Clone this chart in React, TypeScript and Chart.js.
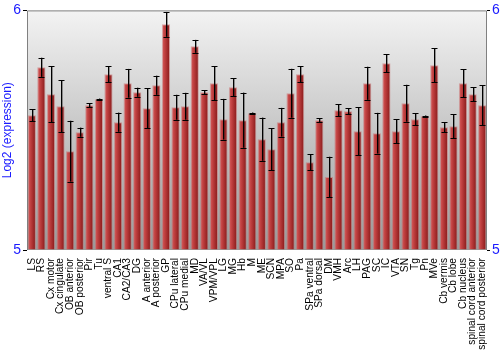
import React, { useEffect, useRef } from "react";
import { Chart, registerables } from "chart.js";

Chart.register(...registerables);

const categories = [
  "LS", "RS", "Cx motor", "Cx cingulate", "OB anterior", "OB posterior", "Pir", "Tu",
  "ventral S", "CA1", "CA2/CA3", "DG", "A anterior", "A posterior", "GP", "CPu lateral",
  "CPu medial", "MD", "VA/VL", "VPM/VPL", "LG", "MG", "Hb", "M", "ME", "SCN", "MPA", "SO",
  "Pa", "SPa ventral", "SPa dorsal", "DM", "VMH", "Arc", "LH", "PAG", "SC", "IC", "VTA",
  "SN", "Tg", "Pn", "MVe", "Cb vermis", "Cb lobe", "Cb nucleus", "spinal cord anterior",
  "spinal cord posterior",
];

const means = [
  5.5625, 5.7625, 5.65, 5.6, 5.4125, 5.4917, 5.6042, 5.629,
  5.7333, 5.5333, 5.6958, 5.6583, 5.5917, 5.6875, 5.9417, 5.5958,
  5.6, 5.85, 5.6583, 5.6958, 5.5458, 5.6792, 5.5417, 5.5708, 5.4625, 5.4208, 5.5333, 5.6542,
  5.7333, 5.3667, 5.5417, 5.3042, 5.5833, 5.5792, 5.4958, 5.6958, 5.4875, 5.7792, 5.4958,
  5.6125, 5.5458, 5.5583, 5.7708, 5.5125, 5.5167, 5.6958, 5.65,
  5.6042,
];

const errors = [
  0.025, 0.04, 0.117, 0.108, 0.127, 0.019, 0.008, 0.003,
  0.033, 0.04, 0.06, 0.019, 0.083, 0.04, 0.052, 0.052,
  0.056, 0.027, 0.008, 0.071, 0.085, 0.0375, 0.115, 0.003, 0.09, 0.0875, 0.06, 0.102,
  0.033, 0.033, 0.008, 0.085, 0.025, 0.0125, 0.1, 0.069, 0.085, 0.0375, 0.05,
  0.077, 0.025, 0.003, 0.071, 0.021, 0.05, 0.058, 0.029,
  0.083,
];

const yMin = 5;
const yMax = 6;

export default function App() {
  const ref = useRef<HTMLCanvasElement>(null);

  useEffect(() => {
    document.body.style.margin = "0";
    const canvas = ref.current;
    if (!canvas) return;

    const decorPlugin = {
      id: "decor",
      beforeDatasetsDraw(chart: any) {
        const { ctx, chartArea: a } = chart;
        const g = ctx.createLinearGradient(0, a.top, 0, a.bottom);
        g.addColorStop(0, "#f3f3f3");
        g.addColorStop(1, "#9a9a9a");
        ctx.save();
        ctx.fillStyle = g;
        ctx.fillRect(a.left, a.top, a.right - a.left, a.bottom - a.top);
        ctx.restore();
      },
      afterDatasetsDraw(chart: any) {
        const { ctx, chartArea: a } = chart;
        const yScale = chart.scales.y;
        const meta = chart.getDatasetMeta(0);
        ctx.save();
        ctx.lineWidth = 1;
        meta.data.forEach((bar: any, i: number) => {
          const x = Math.round(bar.x) + 0.5;
          const yHi = yScale.getPixelForValue(means[i] + errors[i]);
          const yLo = yScale.getPixelForValue(means[i] - errors[i]);
          ctx.strokeStyle = "rgba(0,0,0,0.35)";
          ctx.beginPath();
          ctx.moveTo(x + 1, yHi);
          ctx.lineTo(x + 1, yLo);
          ctx.stroke();
          ctx.strokeStyle = "#000";
          ctx.beginPath();
          ctx.moveTo(x, yHi);
          ctx.lineTo(x, yLo);
          ctx.moveTo(x - 3, Math.round(yHi) + 0.5);
          ctx.lineTo(x + 3, Math.round(yHi) + 0.5);
          ctx.moveTo(x - 3, Math.round(yLo) + 0.5);
          ctx.lineTo(x + 3, Math.round(yLo) + 0.5);
          ctx.stroke();
        });
        ctx.strokeStyle = "#808080";
        ctx.beginPath();
        ctx.moveTo(a.left + 0.5, a.bottom);
        ctx.lineTo(a.left + 0.5, a.top + 0.5);
        ctx.lineTo(a.right - 0.5, a.top + 0.5);
        ctx.lineTo(a.right - 0.5, a.bottom);
        ctx.stroke();
        ctx.restore();
      },
    };

    const barFill = (c: any) => {
      const chart = c.chart;
      const xs = chart.scales && chart.scales.x;
      if (!xs || c.dataIndex === undefined) return "#b03030";
      const cx = xs.getPixelForValue(c.dataIndex);
      if (!Number.isFinite(cx)) return "#b03030";
      const w = 8;
      const g = chart.ctx.createLinearGradient(cx - w / 2, 0, cx + w / 2, 0);
      g.addColorStop(0, "#d86060");
      g.addColorStop(0.35, "#c04040");
      g.addColorStop(1, "#861818");
      return g;
    };

    const blue = "#1a1aff";
    const fontFamily = "'Liberation Sans', Arial, sans-serif";

    const chart = new Chart(canvas, {
      type: "bar",
      data: {
        labels: categories,
        datasets: [
          {
            data: means.map((m) => m),
            backgroundColor: barFill,
            borderColor: "rgba(200,110,110,0.55)",
            borderWidth: 1,
            barPercentage: 0.86,
            categoryPercentage: 1,
            base: yMin,
          },
        ],
      },
      options: {
        animation: false,
        responsive: false,
        maintainAspectRatio: false,
        layout: { padding: { top: 10, left: 0, right: 0, bottom: 0 } },
        plugins: {
          legend: { display: false },
          tooltip: { enabled: false },
        },
        scales: {
          x: {
            type: "category",
            grid: { display: false },
            border: { display: false },
            ticks: {
              autoSkip: false,
              maxRotation: 90,
              minRotation: 90,
              color: "#000",
              padding: 0,
              font: { size: 10.2, family: fontFamily },
            },
            afterFit: (s: any) => {
              s.height = 100;
            },
          },
          y: {
            position: "left",
            min: yMin,
            max: yMax,
            ticks: {
              stepSize: 1,
              color: blue,
              padding: 2,
              font: { size: 14, family: fontFamily },
            },
            grid: { drawOnChartArea: false, drawTicks: true, tickLength: 4, color: "#000" },
            border: { display: false },
            title: {
              display: true,
              text: "Log2 (expression)",
              color: blue,
              padding: 0,
              font: { size: 12, family: fontFamily },
            },
            afterFit: (s: any) => {
              s.width = 27;
            },
          },
          y2: {
            position: "right",
            min: yMin,
            max: yMax,
            ticks: {
              stepSize: 1,
              color: blue,
              padding: 2,
              font: { size: 14, family: fontFamily },
            },
            grid: { drawOnChartArea: false, drawTicks: true, tickLength: 3, color: "#000" },
            border: { display: false },
            afterFit: (s: any) => {
              s.width = 13;
            },
          },
        },
      },
      plugins: [decorPlugin],
    });

    return () => chart.destroy();
  }, []);

  return (
    <div style={{ width: 500, height: 350 }}>
      <canvas ref={ref} width={500} height={350} style={{ display: "block" }} />
    </div>
  );
}
